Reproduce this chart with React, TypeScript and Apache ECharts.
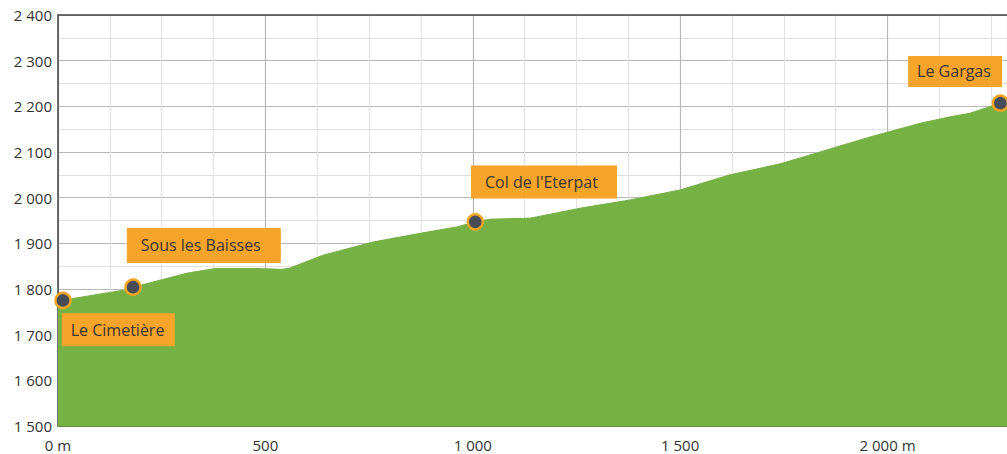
import React, { useEffect, useRef } from "react";
import * as echarts from "echarts";

// Elevation profile (distance in m, elevation in m)
const distances = [0, 41, 162, 181, 313, 379, 475, 540, 559, 639, 760, 880, 962, 1006, 1042, 1138, 1259, 1379, 1500, 1620, 1741, 1837, 1958, 2079, 2151, 2199, 2272, 2288];
const elevations = [1773, 1780, 1798, 1804, 1835, 1845, 1845, 1843, 1846, 1874, 1903, 1923, 1936, 1947, 1953, 1955, 1977, 1995, 2017, 2050, 2074, 2100, 2133, 2163, 2177, 2185, 2207, 2214];

// Waypoints
const poiNames = ["Le Cimetière", "Sous les Baisses", "Col de l'Eterpat", "Le Gargas"];
const poiDistances = [12, 181, 1006, 2272];
const poiElevations = [1775, 1804, 1947, 2207];

// Tick labels
const xTickValues = [0, 500, 1000, 1500, 2000];
const xTickLabels = ["0 m", "500", "1 000", "1 500", "2 000 m"];
const yTickValues = [1500, 1600, 1700, 1800, 1900, 2000, 2100, 2200, 2300, 2400];
const yTickLabels = ["1 500", "1 600", "1 700", "1 800", "1 900", "2 000", "2 100", "2 200", "2 300", "2 400"];

// label box layout: offset from symbol box top-left, left padding, box width, box height
const labelOffsets: [number, number][] = [[7.5, 21.5], [2.5, -50.5], [4.5, -47.5], [-83.5, -38.5]];
const labelPadLeft = [9, 14, 14, 9];
const labelBoxW = [113, 154, 146, 94];
const labelBoxH = [33, 35, 33, 31];

export default function App() {
  const ref = useRef<HTMLDivElement>(null);
  useEffect(() => {
    document.body.style.margin = "0";
    const chart = echarts.init(ref.current!, null, { renderer: "svg" });
    const font = "'Open Sans', 'Noto Sans', sans-serif";
    chart.setOption({
      animation: false,
      backgroundColor: "#ffffff",
      grid: { left: 58, right: 0, top: 15, bottom: 28 },
      xAxis: [
        {
          type: "value",
          min: 0,
          max: 2288,
          interval: 500,
          axisLine: { show: true, lineStyle: { color: "#4e7a33", width: 1.5 } },
          axisTick: { show: false },
          axisLabel: {
            color: "#333",
            fontSize: 15,
            fontFamily: font,
            margin: 11,
            showMaxLabel: false,
            formatter: (v: number) => {
              const i = xTickValues.indexOf(v);
              return i >= 0 ? xTickLabels[i] : "";
            },
          },
          splitLine: { show: true, lineStyle: { color: "#b8b8b8", width: 1.2 } },
          minorTick: { show: false, splitNumber: 4 },
          minorSplitLine: { show: true, lineStyle: { color: "#e2e2e2", width: 1 } },
        },
        {
          type: "value",
          position: "top",
          min: 0,
          max: 2288,
          interval: 500,
          axisLine: { show: true, lineStyle: { color: "#444", width: 1.5 } },
          axisTick: { show: false },
          axisLabel: { show: false },
          splitLine: { show: false },
        },
      ],
      yAxis: {
        type: "value",
        min: 1500,
        max: 2400,
        interval: 100,
        axisLine: { show: true, lineStyle: { color: "#444", width: 1.5 } },
        axisTick: { show: false },
        axisLabel: {
          color: "#333",
          fontSize: 15,
          fontFamily: font,
          margin: 6,
          padding: [4, 0, 0, 0],
          formatter: (v: number) => {
            const i = yTickValues.indexOf(v);
            return i >= 0 ? yTickLabels[i] : "";
          },
        },
        splitLine: { show: true, lineStyle: { color: "#b8b8b8", width: 1.2 } },
        minorTick: { show: false, splitNumber: 2 },
        minorSplitLine: { show: true, lineStyle: { color: "#e2e2e2", width: 1 } },
      },
      series: [
        {
          type: "line",
          data: distances.map((d, i) => [d, elevations[i]]),
          showSymbol: false,
          symbol: "none",
          lineStyle: { color: "#76b144", width: 1 },
          areaStyle: { color: "#76b144", opacity: 1 },
          z: 2,
        },
        {
          type: "scatter",
          data: poiNames.map((n, i) => ({
            name: n,
            value: [poiDistances[i], poiElevations[i]],
            label: {
              position: labelOffsets[i],
              width: labelBoxW[i] - labelPadLeft[i],
              height: labelBoxH[i],
              lineHeight: labelBoxH[i],
              padding: [0, 0, 0, labelPadLeft[i]],
            },
          })),
          symbolSize: 15,
          itemStyle: { color: "#474c56", borderColor: "#f5a524", borderWidth: 2.5, opacity: 1 },
          label: {
            show: true,
            formatter: (p: any) => p.name,
            align: "left",
            verticalAlign: "top",
            backgroundColor: "#f7a42a",
            color: "#3a3630",
            fontSize: 16,
            fontFamily: font,
            overflow: "none",
          },
          z: 5,
        },
      ],
    });
    return () => chart.dispose();
  }, []);
  return <div ref={ref} style={{ width: 1007, height: 454 }} />;
}
